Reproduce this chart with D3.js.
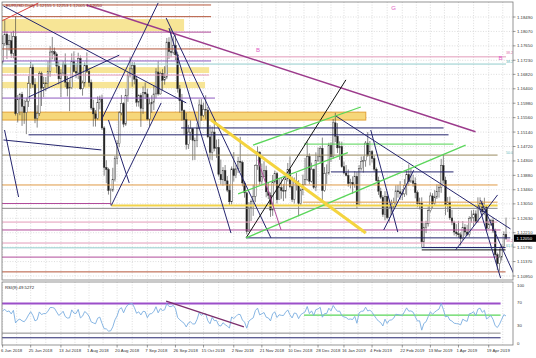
<!DOCTYPE html>
<html>
<head>
<meta charset="utf-8">
<script src="https://cdn.jsdelivr.net/npm/d3@7"></script>
<style>
  body { margin: 0; background: #fff; }
  svg { display: block; }
  text { font-family: "Liberation Sans", Arial, sans-serif; }
</style>
</head>
<body>
<script>
// EURUSD daily, 6 Jun 2018 .. 1 May 2019 (bar index 0..233), opens = previous close
var warmupCloses = [1.1719,1.1652,1.1626,1.1537,1.1664,1.1693,1.1658,1.1694,1.1718];

var closes = [
1.1772,1.1799,1.1768,1.1780,1.1743,1.1792,1.1568,1.1610,1.1624,1.1589,
1.1571,1.1604,1.1655,1.1703,1.1652,1.1554,1.1569,1.1684,1.1642,1.1657,
1.1656,1.1691,1.1747,1.1748,1.1741,1.1706,1.1669,1.1686,1.1712,1.1659,
1.1641,1.1643,1.1720,1.1690,1.1686,1.1728,1.1640,1.1657,1.1708,1.1691,
1.1658,1.1584,1.1567,1.1554,1.1600,1.1610,1.1526,1.1411,1.1405,1.1344,
1.1345,1.1376,1.1438,1.1480,1.1570,1.1597,1.1537,1.1621,1.1680,1.1698,
1.1708,1.1668,1.1601,1.1621,1.1583,1.1630,1.1625,1.1552,1.1596,1.1601,
1.1625,1.1689,1.1625,1.1685,1.1665,1.1674,1.1776,1.1748,1.1746,1.1766,
1.1739,1.1640,1.1605,1.1577,1.1550,1.1478,1.1514,1.1524,1.1490,1.1490,
1.1525,1.1593,1.1562,1.1580,1.1578,1.1500,1.1455,1.1514,1.1467,1.1469,
1.1391,1.1375,1.1402,1.1372,1.1345,1.1311,1.1407,1.1387,1.1407,1.1429,
1.1426,1.1366,1.1337,1.1225,1.1293,1.1312,1.1327,1.1417,1.1456,1.1370,
1.1385,1.1402,1.1340,1.1330,1.1287,1.1369,1.1393,1.1317,1.1352,1.1344,
1.1342,1.1378,1.1405,1.1355,1.1318,1.1371,1.1365,1.1306,1.1346,1.1362,
1.1376,1.1443,1.1371,1.1406,1.1353,1.1431,1.1442,1.1467,1.1344,1.1393,
1.1395,1.1475,1.1443,1.1541,1.1502,1.1468,1.1472,1.1413,1.1395,1.1388,
1.1364,1.1367,1.1361,1.1385,1.1303,1.1408,1.1429,1.1431,1.1482,1.1446,
1.1457,1.1437,1.1406,1.1373,1.1342,1.1324,1.1274,1.1327,1.1265,1.1293,
1.1296,1.1309,1.1343,1.1340,1.1335,1.1334,1.1358,1.1390,1.1370,1.1372,
1.1365,1.1338,1.1306,1.1307,1.1194,1.1236,1.1247,1.1285,1.1328,1.1306,
1.1325,1.1341,1.1353,1.1417,1.1374,1.1302,1.1310,1.1264,1.1250,1.1223,
1.1218,1.1215,1.1204,1.1236,1.1223,1.1216,1.1262,1.1266,1.1276,1.1252,
1.1298,1.1306,1.1282,1.1296,1.1234,1.1245,1.1256,1.1226,1.1157,1.1131,
1.1150,1.1181,1.1216,1.1205];

var highs = [
1.1796,1.1840,1.1807,1.1797,1.1805,1.1809,1.1852,1.1622,1.1628,1.1631,
1.1608,1.1614,1.1677,1.1719,1.1712,1.1671,1.1592,1.1691,1.1690,1.1675,
1.1674,1.1720,1.1764,1.1791,1.1760,1.1746,1.1719,1.1697,1.1720,1.1743,
1.1677,1.1667,1.1743,1.1749,1.1715,1.1745,1.1737,1.1664,1.1717,1.1746,
1.1700,1.1667,1.1608,1.1578,1.1618,1.1620,1.1623,1.1531,1.1432,1.1410,
1.1350,1.1410,1.1445,1.1490,1.1575,1.1622,1.1601,1.1640,1.1688,1.1733,
1.1717,1.1717,1.1678,1.1624,1.1627,1.1647,1.1658,1.1640,1.1612,1.1621,
1.1650,1.1700,1.1720,1.1690,1.1697,1.1706,1.1788,1.1790,1.1815,1.1793,
1.1797,1.1748,1.1651,1.1625,1.1580,1.1570,1.1535,1.1548,1.1525,1.1498,
1.1540,1.1609,1.1610,1.1600,1.1621,1.1587,1.1534,1.1530,1.1551,1.1492,
1.1494,1.1434,1.1412,1.1418,1.1386,1.1362,1.1414,1.1456,1.1418,1.1442,
1.1500,1.1431,1.1372,1.1340,1.1310,1.1318,1.1361,1.1420,1.1472,1.1457,
1.1422,1.1429,1.1416,1.1366,1.1338,1.1389,1.1402,1.1398,1.1380,1.1381,
1.1363,1.1389,1.1424,1.1443,1.1385,1.1382,1.1395,1.1374,1.1350,1.1390,
1.1439,1.1486,1.1452,1.1425,1.1408,1.1455,1.1469,1.1473,1.1498,1.1412,
1.1420,1.1483,1.1484,1.1552,1.1570,1.1540,1.1487,1.1486,1.1428,1.1418,
1.1405,1.1378,1.1385,1.1400,1.1398,1.1418,1.1443,1.1444,1.1488,1.1514,
1.1488,1.1462,1.1445,1.1411,1.1384,1.1352,1.1330,1.1342,1.1341,1.1305,
1.1317,1.1323,1.1359,1.1360,1.1371,1.1348,1.1377,1.1403,1.1420,1.1409,
1.1390,1.1382,1.1344,1.1323,1.1324,1.1249,1.1256,1.1298,1.1338,1.1336,
1.1345,1.1362,1.1362,1.1436,1.1448,1.1384,1.1325,1.1326,1.1288,1.1256,
1.1246,1.1255,1.1222,1.1255,1.1246,1.1244,1.1269,1.1286,1.1288,1.1286,
1.1324,1.1324,1.1314,1.1323,1.1299,1.1256,1.1261,1.1264,1.1233,1.1163,
1.1175,1.1187,1.1225,1.1265];

var lows = [
1.1712,1.1765,1.1727,1.1751,1.1730,1.1729,1.1562,1.1542,1.1563,1.1532,
1.1538,1.1508,1.1587,1.1641,1.1643,1.1540,1.1527,1.1561,1.1590,1.1616,
1.1633,1.1643,1.1675,1.1726,1.1721,1.1685,1.1653,1.1616,1.1678,1.1645,
1.1618,1.1575,1.1639,1.1688,1.1671,1.1668,1.1637,1.1620,1.1646,1.1686,
1.1646,1.1578,1.1530,1.1530,1.1550,1.1580,1.1520,1.1387,1.1365,1.1332,
1.1301,1.1340,1.1370,1.1420,1.1470,1.1563,1.1528,1.1532,1.1602,1.1673,
1.1646,1.1653,1.1588,1.1588,1.1529,1.1567,1.1610,1.1548,1.1531,1.1570,
1.1578,1.1612,1.1620,1.1623,1.1636,1.1652,1.1668,1.1727,1.1732,1.1740,
1.1723,1.1629,1.1571,1.1547,1.1506,1.1463,1.1465,1.1491,1.1432,1.1433,
1.1470,1.1523,1.1547,1.1557,1.1551,1.1496,1.1434,1.1432,1.1458,1.1439,
1.1385,1.1361,1.1358,1.1360,1.1339,1.1301,1.1303,1.1370,1.1380,1.1395,
1.1398,1.1356,1.1323,1.1216,1.1225,1.1255,1.1270,1.1310,1.1404,1.1360,
1.1360,1.1383,1.1324,1.1319,1.1267,1.1270,1.1364,1.1306,1.1320,1.1320,
1.1313,1.1321,1.1370,1.1350,1.1310,1.1306,1.1344,1.1269,1.1301,1.1330,
1.1360,1.1372,1.1362,1.1367,1.1348,1.1342,1.1427,1.1425,1.1309,1.1340,
1.1363,1.1390,1.1427,1.1436,1.1485,1.1453,1.1433,1.1410,1.1391,1.1385,
1.1355,1.1350,1.1334,1.1352,1.1290,1.1298,1.1402,1.1396,1.1413,1.1442,
1.1417,1.1425,1.1399,1.1370,1.1331,1.1319,1.1267,1.1257,1.1260,1.1250,
1.1274,1.1288,1.1296,1.1323,1.1317,1.1316,1.1325,1.1330,1.1357,1.1366,
1.1355,1.1321,1.1295,1.1289,1.1176,1.1177,1.1220,1.1239,1.1280,1.1293,
1.1300,1.1319,1.1323,1.1337,1.1364,1.1272,1.1281,1.1258,1.1243,1.1213,
1.1210,1.1206,1.1184,1.1200,1.1212,1.1212,1.1209,1.1250,1.1240,1.1249,
1.1250,1.1294,1.1270,1.1272,1.1226,1.1233,1.1241,1.1220,1.1150,1.1112,
1.1110,1.1140,1.1170,1.1200];

var dateLabels = ["6 Jun 2018","25 Jun 2018","13 Jul 2018","1 Aug 2018","20 Aug 2018","7 Sep 2018",
  "26 Sep 2018","15 Oct 2018","2 Nov 2018","21 Nov 2018","10 Dec 2018","28 Dec 2018","16 Jan 2019",
  "4 Feb 2019","22 Feb 2019","13 Mar 2019","1 Apr 2019","19 Apr 2019"];
var dateLabelBars = [0,13,27,40,53,67,80,93,107,120,133,146,158,171,185,198,211,225];

var priceTicks = ["1.18490","1.18070","1.17650","1.17230","1.16820","1.16400","1.15980","1.15560",
  "1.15140","1.14720","1.14300","1.13880","1.13460","1.13050","1.12630","1.12210","1.11790",
  "1.11370","1.10950"];
var rsiTicks = [100, 70, 30, 0];

var titleText = "EURUSD,Daily  1.12155 1.12253 1.12005 1.12050";
var lastPriceText = "1.12050";
var rsiTitle = "RSI(9) 49.5272";

// horizontal levels: price, from bar, to bar, kind
var hLines = [
  [1.1884, -2, 96.5, "brown"], [1.1850, -2, 96.5, "brown"], [1.1805, -2, 96.5, "magenta"],
  [1.1756, -2, 96.5, "brown"], [1.1733, -2, 233, "pink"], [1.1721, -2, 96.5, "purple"],
  [1.1712, -2, 233, "teal"], [1.1680, -2, 95.6, "pink"], [1.1613, -2, 98.3, "purple"],
  [1.1526, 82.6, 204.1, "navy"], [1.1506, 12, 206.4, "navy"], [1.1479, 139.5, 208.7, "green"],
  [1.1447, -2, 229.1, "olive"], [1.1398, 152, 208.7, "navy"], [1.1360, -2, 229.1, "orange"],
  [1.1310, 139, 229.1, "orange"], [1.1306, -2, 50.3, "magenta"], [1.1300, 50.3, 229.1, "yellow"],
  [1.1292, -2, 229.1, "gray"], [1.1252, -2, 229.1, "pink"], [1.1229, -2, 230.5, "magenta"],
  [1.1206, 112.7, 235, "navy"], [1.1191, -2, 229.1, "pink"], [1.1177, -2, 229.1, "teal"],
  [1.1178, 194, 232.8, "navy"], [1.1171, 194, 232.8, "black"], [1.1150, -2, 229.1, "magenta"],
  [1.1107, -2, 232.8, "brown"]
];

// shaded zones: top price, bottom price, from bar, to bar, kind
var zones = [
  [1.1843, 1.1808, -2, 84, "yellow"],
  [1.1703, 1.1686, -2, 95.6, "yellow"],
  [1.1660, 1.1642, -2, 93.7, "yellow"],
  [1.1572, 1.1549, -2, 168.1, "orange"]
];

// trend lines: bar1, price1, bar2, price2, kind
var trendLines = [
  [-0.5, 1.1837, 16.6, 1.1890, "red"],
  [38.8, 1.1884, 218.9, 1.1515, "trendMagenta"],
  [0.4, 1.1881, 85, 1.1599, "navy"],
  [12, 1.1616, 54, 1.1738, "navy"],
  [45.7, 1.1549, 72, 1.1890, "navy"],
  [75.7, 1.1846, 124.2, 1.1206, "navy"],
  [77, 1.1817, 105.7, 1.1220, "navy"],
  [50.3, 1.1300, 73.4, 1.1599, "navy"],
  [49, 1.1549, 58.6, 1.1366, "navy"],
  [0.9, 1.1520, 7.4, 1.1325, "navy"],
  [0.4, 1.1491, 45.7, 1.1462, "navy"],
  [112.7, 1.1206, 158.9, 1.1666, "black"],
  [154.2, 1.1561, 235.1, 1.1232, "navy"],
  [170.4, 1.1520, 182.9, 1.1223, "navy"],
  [176.4, 1.1229, 190.3, 1.1403, "navy"],
  [209.7, 1.1171, 229.1, 1.1331, "navy"],
  [221.2, 1.1316, 236.4, 1.1104, "navy"],
  [220.3, 1.1302, 230.5, 1.1089, "navy"],
  [112.7, 1.1206, 214.3, 1.1476, "trendGreen"],
  [109, 1.1334, 159.8, 1.1454, "trendGreen"],
  [115.9, 1.1476, 165.8, 1.1587, "trendGreen"],
  [96.5, 1.1549, 168.1, 1.1220, "trendYellow"],
  [118.2, 1.1433, 128.9, 1.1229, "magenta"]
];

// object markers and level tags
var markers = [[118.2, 1.1747, "B"], [230.5, 1.1724, "B"], [181, 1.1869, "G"]];
var levelTags = [[1.1740, "38.2", "pink"], [1.1712, "38.2", "teal"], [1.1447, "50.0", "teal"],
  [1.1191, "38.2", "pink"], [1.1177, "61.8", "teal"]];

// RSI window levels: value, from bar, to bar, kind
var rsiLevels = [[68, -2, 230.5, "purpleThick"], [48, 139.5, 230.5, "trendGreen"],
  [17, -2, 230.5, "gray"], [9, -2, 230.5, "navy"]];
var rsiTrend = [75.7, 72, 111.7, 27.6];

var lineStyle = {
  brown: ["#b4553a", 1], magenta: ["#b04a9a", 1], pink: ["#e39bb9", 1], purple: ["#8e5bc0", 1],
  teal: ["#92cccc", 1], navy: ["#25256e", 1], green: ["#52d452", 1], olive: ["#9a8a60", 1],
  orange: ["#df9a45", 1], yellow: ["#f2d34a", 2], gray: ["#8a8a8a", 1], black: ["#111", 1],
  red: ["#d94040", 1], trendMagenta: ["#9c3b8c", 1.5], trendYellow: ["#f4d43f", 3],
  trendGreen: ["#5ad65a", 1.3], purpleThick: ["#9b4fc9", 2]
};
var tagColor = { pink: "#e070a8", teal: "#5fb8b8" };

var W = 536, H = 358;
var main = { l: 2, r: 513, t: 2, b: 280 };
var sub = { l: 2, r: 513, t: 282, b: 345 };

var x = d3.scaleLinear().domain([0, 233]).range([2.6, 506]);
var y = d3.scaleLinear().domain([1.10950, 1.18490]).range([276, 17]);
var ry = d3.scaleLinear().domain([0, 100]).range([343, 285]);

var svg = d3.select("body").append("svg").attr("width", W).attr("height", H);
var defs = svg.append("defs");
defs.append("clipPath").attr("id", "clipMain").append("rect")
  .attr("x", main.l).attr("y", main.t).attr("width", main.r - main.l).attr("height", main.b - main.t);
defs.append("clipPath").attr("id", "clipSub").append("rect")
  .attr("x", sub.l).attr("y", sub.t).attr("width", sub.r - sub.l).attr("height", sub.b - sub.t);

// grid bars: label bars and halfway points
var gridBars = dateLabelBars.slice();
d3.pairs(dateLabelBars).forEach(function(p) { gridBars.push((p[0] + p[1]) / 2); });
gridBars.push(225 + 6.5);

var grid = svg.append("g").attr("stroke", "#c6c6c6").attr("stroke-width", 0.6)
  .attr("stroke-dasharray", "1,1.6");
[main, sub].forEach(function(pn) {
  grid.selectAll(null).data(gridBars).enter().append("line")
    .attr("x1", function(d) { return x(d); }).attr("x2", function(d) { return x(d); })
    .attr("y1", pn.t).attr("y2", pn.b);
});
grid.selectAll(null).data(priceTicks).enter().append("line")
  .attr("x1", main.l).attr("x2", main.r)
  .attr("y1", function(d) { return y(+d); }).attr("y2", function(d) { return y(+d); });

var gm = svg.append("g").attr("clip-path", "url(#clipMain)");

// zones
gm.selectAll("rect.zone").data(zones).enter().append("rect")
  .attr("class", "zone")
  .attr("x", function(d) { return x(d[2]); })
  .attr("width", function(d) { return x(d[3]) - x(d[2]); })
  .attr("y", function(d) { return y(d[0]); })
  .attr("height", function(d) { return y(d[1]) - y(d[0]); })
  .attr("fill", function(d) { return d[4] === "orange" ? "#f6d77a" : "#f7e596"; })
  .attr("stroke", function(d) { return d[4] === "orange" ? "#e3a23a" : "none"; })
  .attr("stroke-width", 1);

// candles
var allCloses = warmupCloses.concat(closes);
var opens = closes.map(function(c, i) { return allCloses[i + warmupCloses.length - 1]; });
var candles = gm.append("g");
candles.selectAll("line").data(closes).enter().append("line")
  .attr("x1", function(d, i) { return x(i); }).attr("x2", function(d, i) { return x(i); })
  .attr("y1", function(d, i) { return y(highs[i]); }).attr("y2", function(d, i) { return y(lows[i]); })
  .attr("stroke", "#3a3a3a").attr("stroke-width", 0.6);
candles.selectAll("rect").data(closes).enter().append("rect")
  .attr("x", function(d, i) { return x(i) - 0.8; })
  .attr("width", 1.6)
  .attr("y", function(d, i) { return y(Math.max(d, opens[i])); })
  .attr("height", function(d, i) { return Math.max(0.6, Math.abs(y(d) - y(opens[i]))); })
  .attr("fill", function(d, i) { return d >= opens[i] ? "#fff" : "#1a1a1a"; })
  .attr("stroke", "#3a3a3a").attr("stroke-width", 0.45);

// horizontal levels
gm.selectAll("line.hl").data(hLines).enter().append("line")
  .attr("class", "hl")
  .attr("x1", function(d) { return x(d[1]); }).attr("x2", function(d) { return x(d[2]); })
  .attr("y1", function(d) { return y(d[0]); }).attr("y2", function(d) { return y(d[0]); })
  .attr("stroke", function(d) { return lineStyle[d[3]][0]; })
  .attr("stroke-width", function(d) { return lineStyle[d[3]][1]; });

// trend lines
gm.selectAll("line.tl").data(trendLines).enter().append("line")
  .attr("class", "tl")
  .attr("x1", function(d) { return x(d[0]); }).attr("y1", function(d) { return y(d[1]); })
  .attr("x2", function(d) { return x(d[2]); }).attr("y2", function(d) { return y(d[3]); })
  .attr("stroke", function(d) { return lineStyle[d[4]][0]; })
  .attr("stroke-width", function(d) { return lineStyle[d[4]][1]; });

// markers
gm.selectAll("text.mk").data(markers).enter().append("text")
  .attr("class", "mk")
  .attr("x", function(d) { return x(d[0]); }).attr("y", function(d) { return y(d[1]); })
  .attr("text-anchor", "middle").attr("font-size", 6).attr("fill", "#e05cc4")
  .text(function(d) { return d[2]; });
gm.selectAll("text.tag").data(levelTags).enter().append("text")
  .attr("class", "tag")
  .attr("x", x(234.6)).attr("y", function(d) { return y(d[0]) - 0.6; })
  .attr("text-anchor", "middle").attr("font-size", 3.6)
  .attr("fill", function(d) { return tagColor[d[2]]; })
  .text(function(d) { return d[1]; });

// title
svg.append("text").attr("x", 6).attr("y", 7).attr("font-size", 4.3).attr("fill", "#8b1a1a")
  .text(titleText);

// RSI window
var n = 9, avgG = 0, avgL = 0, rsi = [];
for (var k = 1; k <= n; k++) {
  var ch = allCloses[k] - allCloses[k - 1];
  avgG += Math.max(ch, 0) / n; avgL += Math.max(-ch, 0) / n;
}
rsi.push(100 - 100 / (1 + avgG / avgL));
for (var k = n + 1; k < allCloses.length; k++) {
  var ch = allCloses[k] - allCloses[k - 1];
  avgG = (avgG * (n - 1) + Math.max(ch, 0)) / n;
  avgL = (avgL * (n - 1) + Math.max(-ch, 0)) / n;
  rsi.push(100 - 100 / (1 + avgG / avgL));
}

var gs = svg.append("g").attr("clip-path", "url(#clipSub)");
gs.selectAll("line.rl").data(rsiLevels).enter().append("line")
  .attr("class", "rl")
  .attr("x1", function(d) { return x(d[1]); }).attr("x2", function(d) { return x(d[2]); })
  .attr("y1", function(d) { return ry(d[0]); }).attr("y2", function(d) { return ry(d[0]); })
  .attr("stroke", function(d) { return lineStyle[d[3]][0]; })
  .attr("stroke-width", function(d) { return lineStyle[d[3]][1]; });
gs.append("path")
  .attr("d", d3.line().x(function(d, i) { return x(i); }).y(function(d) { return ry(d); })(rsi))
  .attr("fill", "none").attr("stroke", "#7aaee0").attr("stroke-width", 0.9);
gs.append("line")
  .attr("x1", x(rsiTrend[0])).attr("y1", ry(rsiTrend[1]))
  .attr("x2", x(rsiTrend[2])).attr("y2", ry(rsiTrend[3]))
  .attr("stroke", "#7b2d6b").attr("stroke-width", 1.3);
svg.append("text").attr("x", 5).attr("y", 289).attr("font-size", 4.3).attr("fill", "#222")
  .text(rsiTitle);

// frames
[main, sub].forEach(function(pn) {
  svg.append("rect").attr("x", pn.l).attr("y", pn.t)
    .attr("width", pn.r - pn.l).attr("height", pn.b - pn.t)
    .attr("fill", "none").attr("stroke", "#7a7a7a").attr("stroke-width", 0.8);
});

// right axis labels
var axisG = svg.append("g").attr("font-size", 4.3).attr("fill", "#333");
axisG.selectAll("text.pl").data(priceTicks).enter().append("text")
  .attr("class", "pl")
  .attr("x", 517).attr("y", function(d) { return y(+d) + 1.5; })
  .text(function(d) { return d; });
axisG.selectAll("line.pt").data(priceTicks).enter().append("line")
  .attr("class", "pt")
  .attr("x1", main.r).attr("x2", main.r + 2.5)
  .attr("y1", function(d) { return y(+d); }).attr("y2", function(d) { return y(+d); })
  .attr("stroke", "#555").attr("stroke-width", 0.6);
axisG.selectAll("text.rt").data(rsiTicks).enter().append("text")
  .attr("class", "rt")
  .attr("x", 517).attr("y", function(d) { return ry(d) + 1.5; })
  .text(function(d) { return d; });

// last price box
var lastY = y(closes[closes.length - 1]);
svg.append("rect").attr("x", 514).attr("y", lastY - 3.6).attr("width", 22).attr("height", 7.2)
  .attr("fill", "#000");
svg.append("text").attr("x", 516.5).attr("y", lastY + 1.6).attr("font-size", 4.3)
  .attr("fill", "#fff").text(lastPriceText);

// date axis
axisG.selectAll("text.dl").data(dateLabels).enter().append("text")
  .attr("class", "dl")
  .attr("x", function(d, i) { return i === 0 ? 1 : x(dateLabelBars[i]) - 2; })
  .attr("y", 352)
  .text(function(d) { return d; });
axisG.selectAll("line.dt").data(dateLabelBars).enter().append("line")
  .attr("class", "dt")
  .attr("x1", function(d) { return x(d); }).attr("x2", function(d) { return x(d); })
  .attr("y1", sub.b).attr("y2", sub.b + 2.5)
  .attr("stroke", "#555").attr("stroke-width", 0.6);
</script>
</body>
</html>
